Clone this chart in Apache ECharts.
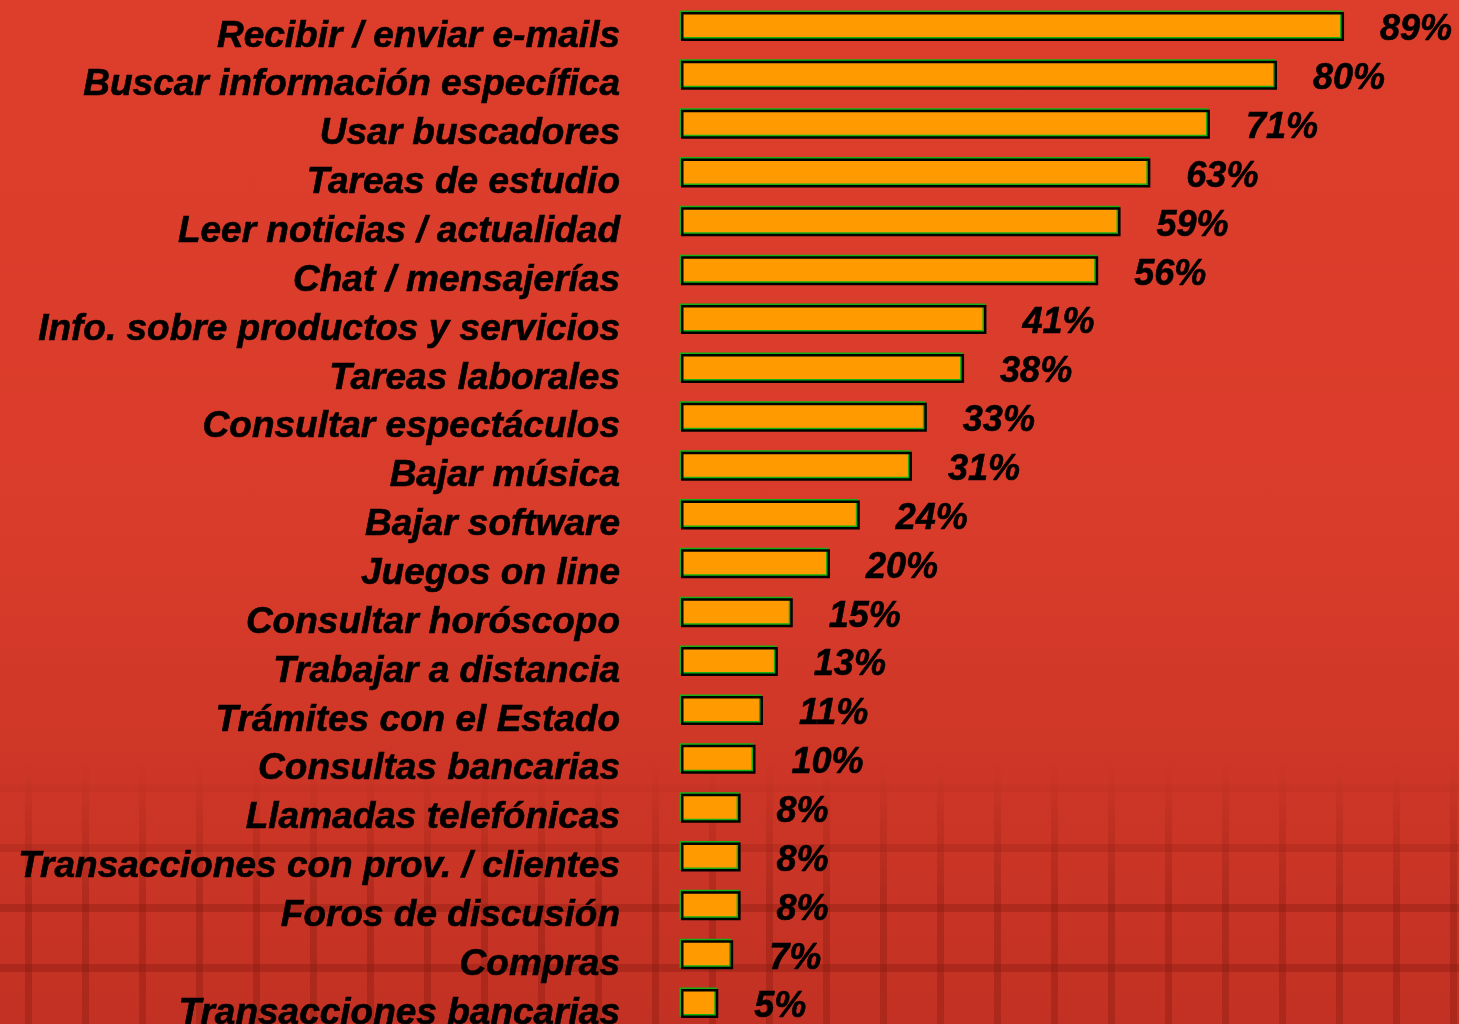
<!DOCTYPE html>
<html>
<head>
<meta charset="utf-8">
<script src="https://cdn.jsdelivr.net/npm/echarts@6/dist/echarts.min.js"></script>
<style>
  html, body { margin: 0; padding: 0; }
  body {
    width: 1459px; height: 1024px; overflow: hidden; position: relative;
    background: linear-gradient(to bottom, #dd3e2c 0%, #da3c2b 50%, #cf3727 72%, #c23123 100%);
  }
  #grid {
    position: absolute; left: 0; right: 0; bottom: 0; height: 260px;
    background:
      repeating-linear-gradient(90deg, rgba(0,0,0,0) 0 25px, rgba(120,22,12,0.3) 25px 32px, rgba(0,0,0,0) 32px 57px),
      repeating-linear-gradient(0deg, rgba(0,0,0,0) 0 52px, rgba(120,22,12,0.3) 52px 60px);
    -webkit-mask-image: linear-gradient(to bottom, rgba(0,0,0,0) 0%, rgba(0,0,0,0.5) 25%, rgba(0,0,0,1) 55%);
    mask-image: linear-gradient(to bottom, rgba(0,0,0,0) 0%, rgba(0,0,0,0.5) 25%, rgba(0,0,0,1) 55%);
  }
  #main { position: absolute; left: 0; top: 0; width: 1459px; height: 1024px; }
</style>
</head>
<body>
<div id="grid"></div>
<div id="main"></div>
<script>
// actividades en internet (%)
var categories = [
  'Recibir / enviar e-mails',
  'Buscar información específica',
  'Usar buscadores',
  'Tareas de estudio',
  'Leer noticias / actualidad',
  'Chat / mensajerías',
  'Info. sobre productos y servicios',
  'Tareas laborales',
  'Consultar espectáculos',
  'Bajar música',
  'Bajar software',
  'Juegos on line',
  'Consultar horóscopo',
  'Trabajar a distancia',
  'Trámites con el Estado',
  'Consultas bancarias',
  'Llamadas telefónicas',
  'Transacciones con prov. / clientes',
  'Foros de discusión',
  'Compras',
  'Transacciones bancarias'
]
var values = [89, 80, 71, 63, 59, 56, 41, 38, 33, 31, 24, 20, 15, 13, 11, 10, 8, 8, 8, 7, 5]

var fontFam = '"Liberation Sans", Arial, sans-serif'

var myChart = echarts.init(document.getElementById('main'))
var option = {
  animation: false,
  backgroundColor: 'transparent',
  grid: {
    left: 681,
    right: 33,
    top: 2,
    height: 1026,
    containLabel: false,
    outerBoundsMode: 'none'
  },
  xAxis: {
    type: 'value',
    min: 0,
    max: 100,
    show: false
  },
  yAxis: {
    type: 'category',
    inverse: true,
    data: categories,
    axisLine: { show: false },
    axisTick: { show: false },
    splitLine: { show: false },
    axisLabel: {
      margin: 61,
      formatter: function (v) { return '{a|' + v + '}' },
      rich: {
        a: {
          color: '#000',
          fontSize: 37,
          fontWeight: 'bold',
          fontStyle: 'italic',
          fontFamily: fontFam,
          textBorderColor: '#000',
          textBorderWidth: 0.6,
          padding: [20, 0, 0, 0]
        }
      }
    }
  },
  series: [
    {
      type: 'bar',
      data: values,
      barWidth: 29,
      itemStyle: {
        color: '#ff9a00',
        borderColor: '#000',
        borderWidth: 2.5,
        shadowColor: '#14b014',
        shadowBlur: 0,
        shadowOffsetX: -1.5,
        shadowOffsetY: -1.5
      },
      label: {
        show: true,
        position: 'right',
        distance: 36,
        offset: [0, 4],
        formatter: '{c}%',
        color: '#000',
        fontSize: 36,
        fontWeight: 'bold',
        fontStyle: 'italic',
        fontFamily: fontFam,
        textBorderColor: '#000',
        textBorderWidth: 0.6
      }
    }
  ]
}
myChart.setOption(option)
</script>
</body>
</html>
